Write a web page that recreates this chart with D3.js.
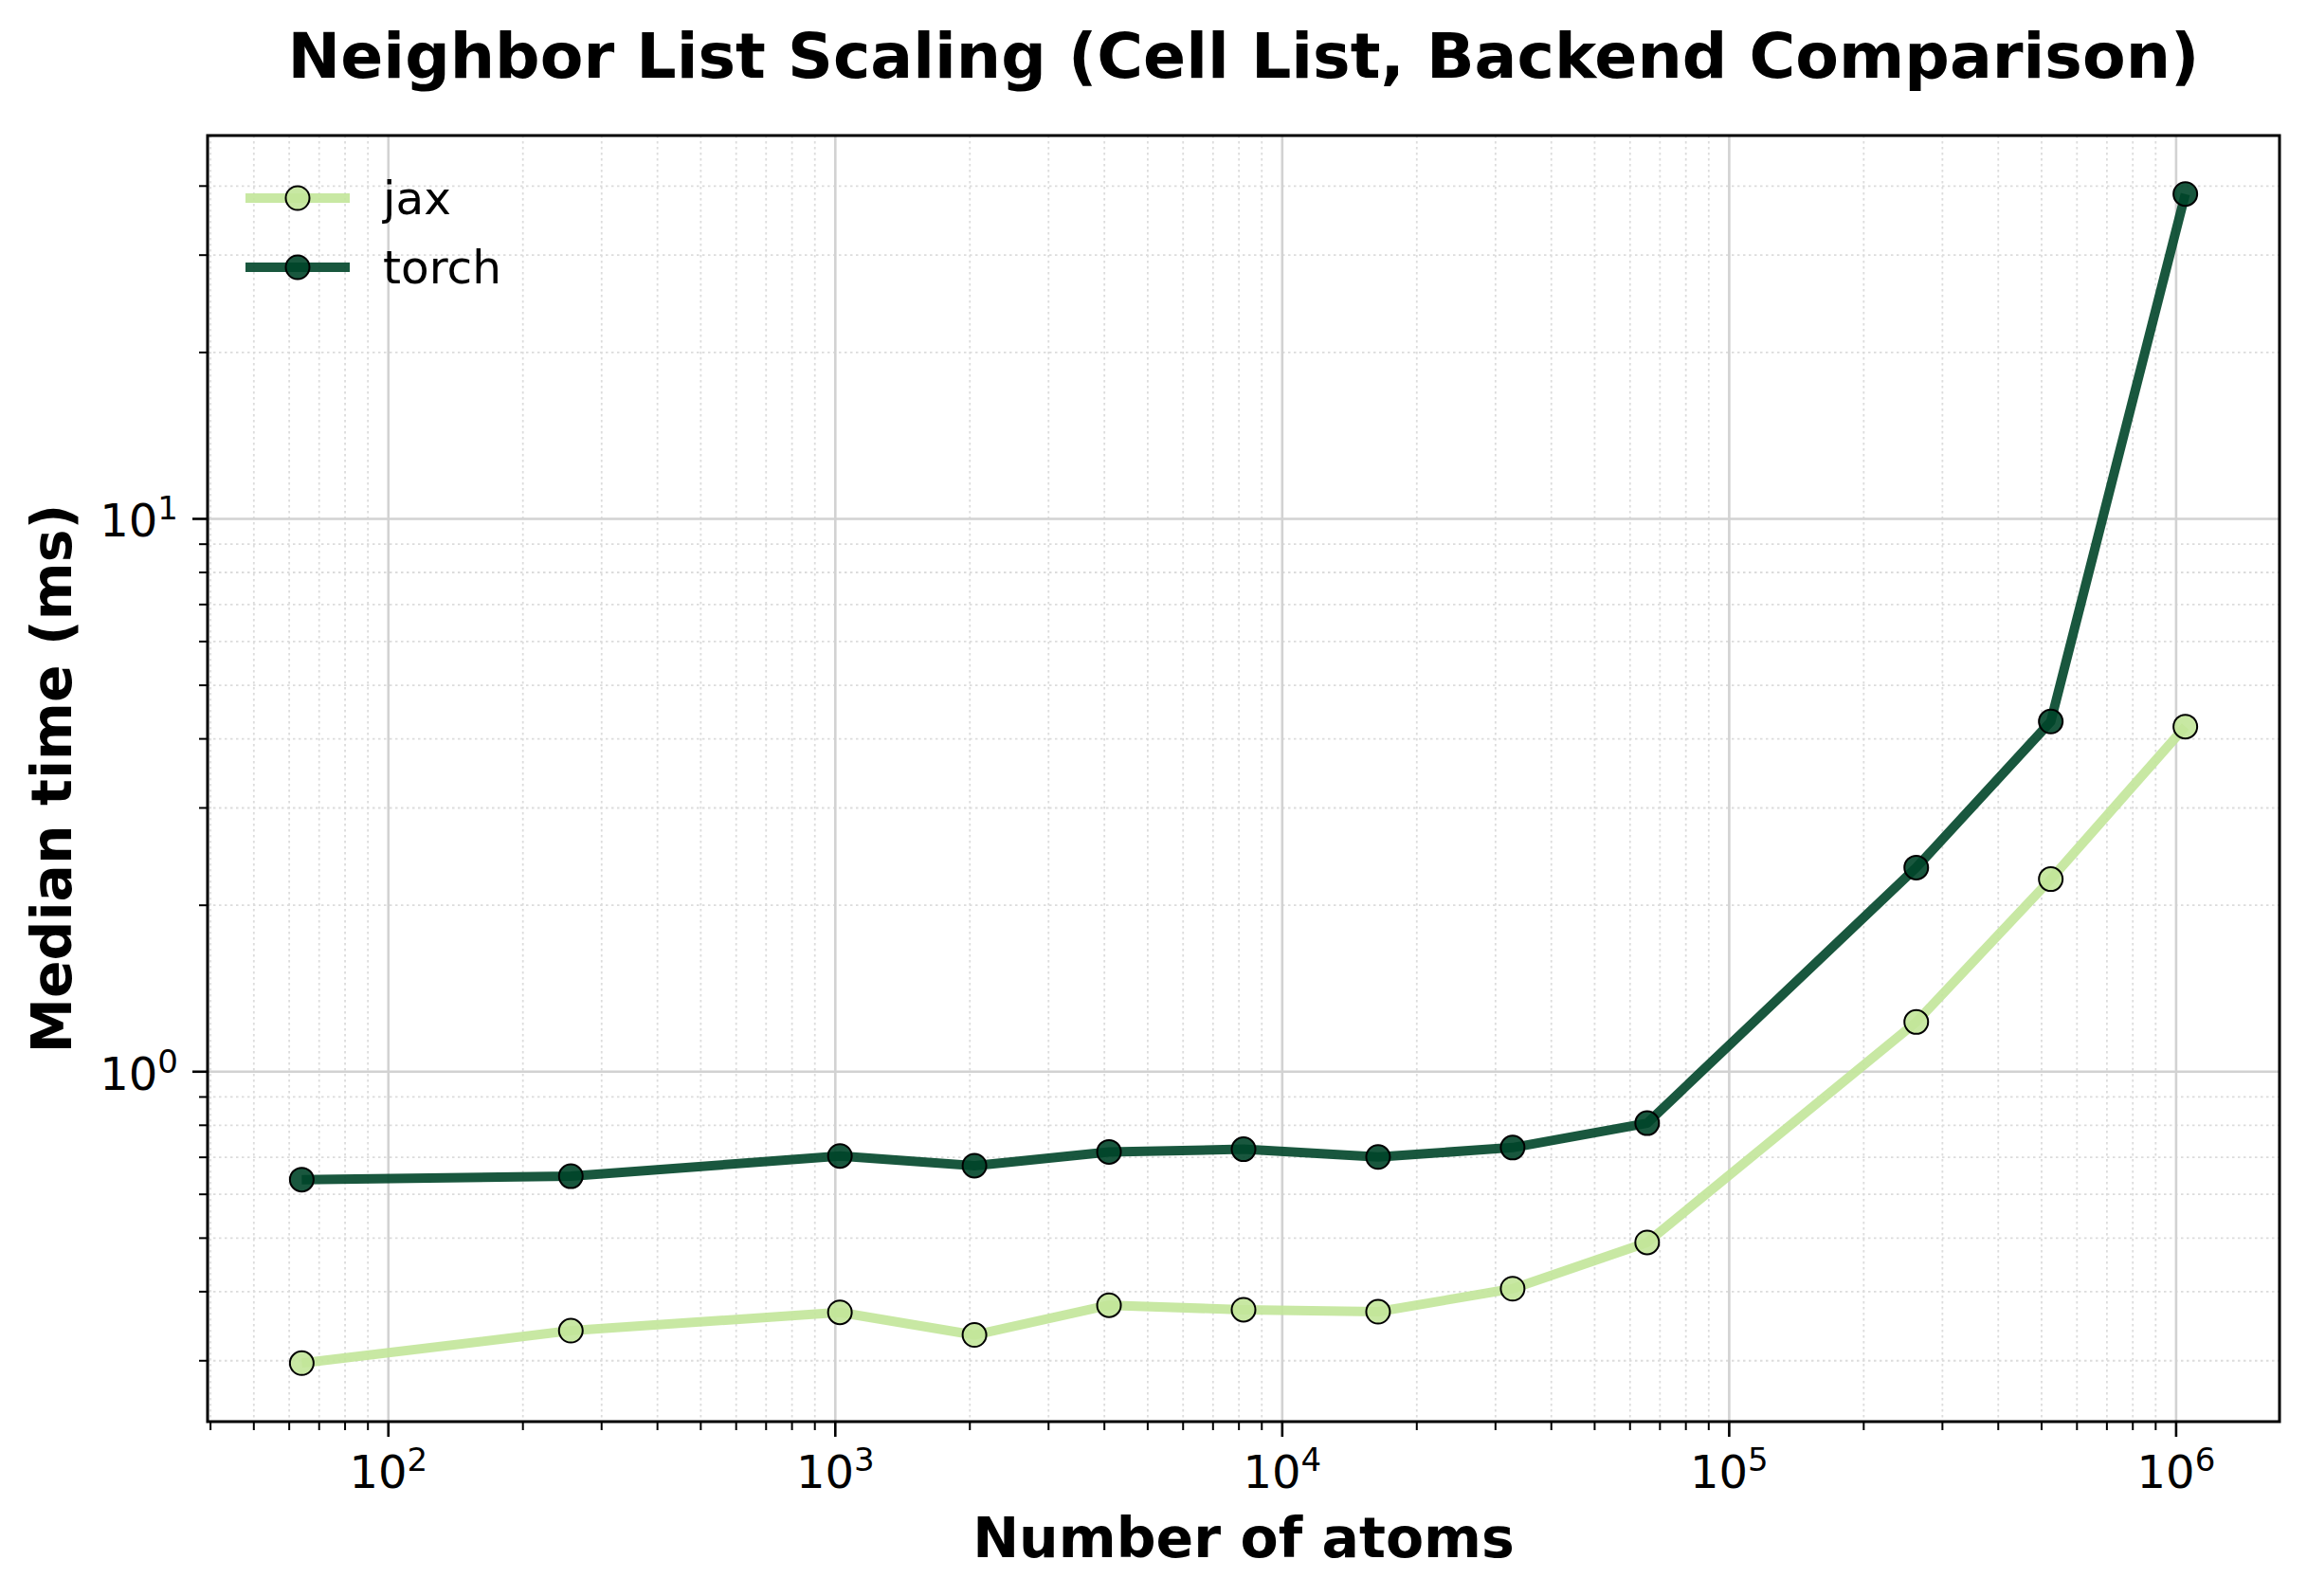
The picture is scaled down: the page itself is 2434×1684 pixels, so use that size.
<!doctype html>
<html lang="en">
  <head>
    <meta charset="utf-8">
    <title>Neighbor List Scaling</title>
    <script src="https://cdn.jsdelivr.net/npm/d3@7"></script>
    <style>
      body { margin: 0; background: white; }
      text { font-family: "DejaVu Sans", sans-serif; fill: black; }
    </style>
  </head>
  <body>
    <svg id="chart" width="2434" height="1684"></svg>
  </body>
</html>
<script>

  // values
  var natoms = [64, 256, 1024, 2048, 4096, 8192, 16384, 32768, 65536, 262144, 524288, 1048576];
  var jaxTimes = [0.297, 0.340, 0.367, 0.334, 0.378, 0.371, 0.368, 0.405, 0.491, 1.23, 2.23, 4.21];
  var torchTimes = [0.638, 0.647, 0.704, 0.676, 0.716, 0.724, 0.701, 0.729, 0.807, 2.34, 4.30, 38.7];
  var seriesNames = ["jax", "torch"];
  var seriesColors = ["#c2e699", "#004529"];
  var xMajorExp = [2, 3, 4, 5, 6];
  var yMajorExp = [0, 1];

  var series = [
      { name: seriesNames[0], color: seriesColors[0], values: jaxTimes },
      { name: seriesNames[1], color: seriesColors[1], values: torchTimes }
  ];

  var svg = d3.select("#chart");

  var plot_left = 219;
  var plot_right = 2405;
  var plot_top = 143;
  var plot_bottom = 1500;

  // matplotlib style 5% margin in log space
  function logPad(values) {
      var lo = Math.log10(d3.min(values));
      var hi = Math.log10(d3.max(values));
      var pad = (hi - lo) * 0.05;
      return [Math.pow(10, lo - pad), Math.pow(10, hi + pad)];
  }

  var x = d3.scaleLog()
      .domain(logPad(natoms))
      .range([plot_left, plot_right]);
  var y = d3.scaleLog()
      .domain(logPad(jaxTimes.concat(torchTimes)))
      .range([plot_bottom, plot_top]);

  function minorTicks(scale) {
      var d = scale.domain();
      var out = [];
      for (var e = Math.floor(Math.log10(d[0])); e <= Math.ceil(Math.log10(d[1])); e++) {
          for (var s = 2; s <= 9; s++) {
              var v = s * Math.pow(10, e);
              if (v >= d[0] && v <= d[1]) out.push(v);
          }
      }
      return out;
  }

  var xMinor = minorTicks(x);
  var yMinor = minorTicks(y);
  var xMajor = xMajorExp.map(function (e) { return Math.pow(10, e); });
  var yMajor = yMajorExp.map(function (e) { return Math.pow(10, e); });

  // grid
  var grid = svg.append("g");
  grid.selectAll(".xminor").data(xMinor).enter().append("line")
      .attr("x1", d => x(d)).attr("x2", d => x(d))
      .attr("y1", plot_top).attr("y2", plot_bottom)
      .style("stroke", "#dcdcdc").style("stroke-width", 1.8)
      .style("stroke-dasharray", "2.5,3.5");
  grid.selectAll(".yminor").data(yMinor).enter().append("line")
      .attr("x1", plot_left).attr("x2", plot_right)
      .attr("y1", d => y(d)).attr("y2", d => y(d))
      .style("stroke", "#dcdcdc").style("stroke-width", 1.8)
      .style("stroke-dasharray", "2.5,3.5");
  grid.selectAll(".xmajor").data(xMajor).enter().append("line")
      .attr("x1", d => x(d)).attr("x2", d => x(d))
      .attr("y1", plot_top).attr("y2", plot_bottom)
      .style("stroke", "#d2d2d2").style("stroke-width", 2.6);
  grid.selectAll(".ymajor").data(yMajor).enter().append("line")
      .attr("x1", plot_left).attr("x2", plot_right)
      .attr("y1", d => y(d)).attr("y2", d => y(d))
      .style("stroke", "#d2d2d2").style("stroke-width", 2.6);

  // lines + markers
  var line = d3.line()
      .x(function (d, i) { return x(natoms[i]); })
      .y(function (d) { return y(d); });

  series.forEach(function (s) {
      svg.append("path")
          .attr("d", line(s.values))
          .style("fill", "none")
          .style("stroke", s.color)
          .style("stroke-opacity", 0.9)
          .style("stroke-width", 10)
          .style("stroke-linejoin", "round");
      svg.append("g").selectAll("circle").data(s.values).enter().append("circle")
          .attr("cx", (d, i) => x(natoms[i]))
          .attr("cy", d => y(d))
          .attr("r", 12.5)
          .style("fill", s.color)
          .style("fill-opacity", 0.9)
          .style("stroke", "black")
          .style("stroke-width", 2);
  });

  // frame
  svg.append("rect")
      .attr("x", plot_left).attr("y", plot_top)
      .attr("width", plot_right - plot_left)
      .attr("height", plot_bottom - plot_top)
      .style("fill", "none").style("stroke", "black").style("stroke-width", 3);

  // ticks
  var ticks = svg.append("g").style("stroke", "black");
  ticks.selectAll(".xt").data(xMajor).enter().append("line")
      .attr("x1", d => x(d)).attr("x2", d => x(d))
      .attr("y1", plot_bottom).attr("y2", plot_bottom + 16).style("stroke-width", 2.6);
  ticks.selectAll(".xtm").data(xMinor).enter().append("line")
      .attr("x1", d => x(d)).attr("x2", d => x(d))
      .attr("y1", plot_bottom).attr("y2", plot_bottom + 9).style("stroke-width", 2);
  ticks.selectAll(".yt").data(yMajor).enter().append("line")
      .attr("x1", plot_left - 16).attr("x2", plot_left)
      .attr("y1", d => y(d)).attr("y2", d => y(d)).style("stroke-width", 2.6);
  ticks.selectAll(".ytm").data(yMinor).enter().append("line")
      .attr("x1", plot_left - 9).attr("x2", plot_left)
      .attr("y1", d => y(d)).attr("y2", d => y(d)).style("stroke-width", 2);

  // 10^n tick labels
  function powLabel(sel, exp) {
      sel.append("tspan").text("10");
      sel.append("tspan").attr("dy", -18).style("font-size", "34px").text(exp);
  }
  xMajorExp.forEach(function (e) {
      var t = svg.append("text")
          .attr("x", x(Math.pow(10, e)))
          .attr("y", plot_bottom + 70)
          .attr("text-anchor", "middle")
          .style("font-size", "48px");
      powLabel(t, e);
  });
  yMajorExp.forEach(function (e) {
      var t = svg.append("text")
          .attr("x", plot_left - 31)
          .attr("y", y(Math.pow(10, e)) + 19)
          .attr("text-anchor", "end")
          .style("font-size", "48px");
      powLabel(t, e);
  });

  // titles
  svg.append("text")
      .attr("x", (plot_left + plot_right) / 2).attr("y", 82)
      .attr("text-anchor", "middle")
      .style("font-size", "66.5px").style("font-weight", "bold")
      .text("Neighbor List Scaling (Cell List, Backend Comparison)");
  svg.append("text")
      .attr("x", (plot_left + plot_right) / 2).attr("y", 1643)
      .attr("text-anchor", "middle")
      .style("font-size", "58.5px").style("font-weight", "bold")
      .text("Number of atoms");
  svg.append("text")
      .attr("transform", "translate(75," + (plot_top + plot_bottom) / 2 + ") rotate(-90)")
      .attr("text-anchor", "middle")
      .style("font-size", "58.5px").style("font-weight", "bold")
      .text("Median time (ms)");

  // legend, no frame
  var legend_y = [209, 282];
  series.forEach(function (s, i) {
      var g = svg.append("g");
      g.append("line")
          .attr("x1", 259).attr("x2", 369)
          .attr("y1", legend_y[i]).attr("y2", legend_y[i])
          .style("stroke", s.color).style("stroke-opacity", 0.9).style("stroke-width", 10);
      g.append("circle")
          .attr("cx", 314).attr("cy", legend_y[i]).attr("r", 12.5)
          .style("fill", s.color).style("fill-opacity", 0.9)
          .style("stroke", "black").style("stroke-width", 2);
      g.append("text")
          .attr("x", 404).attr("y", legend_y[i] + 17)
          .style("font-size", "48.5px")
          .text(s.name);
  });

</script>
